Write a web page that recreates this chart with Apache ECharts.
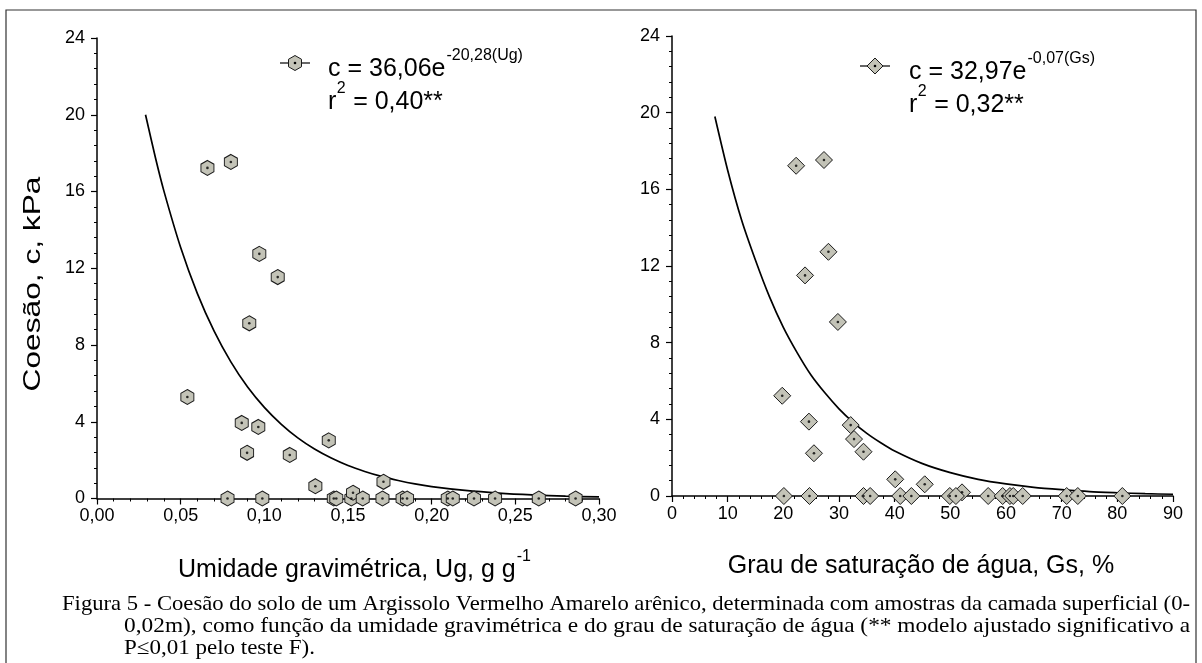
<!DOCTYPE html>
<html><head><meta charset="utf-8">
<script src="https://cdn.jsdelivr.net/npm/echarts@6/dist/echarts.min.js"></script>
<style>html,body{margin:0;padding:0;background:#fff}#c{width:1202px;height:663px}</style>
</head><body><div id="c"></div>
<script>
// ---- Data ----
// Left panel: cohesion vs gravimetric moisture
const ugX = [0.054,0.066,0.080,0.097,0.108,0.091,0.0865,0.0964,0.1385,0.0897,0.1152,0.1305,0.1712,
             0.078,0.0988,0.1415,0.143,0.152,0.153,0.1588,0.1706,0.1826,0.1853,0.2096,0.2126,0.2253,0.2379,0.264,0.286];
const ugC = [5.29,17.23,17.54,12.75,11.54,9.13,3.94,3.73,3.03,2.38,2.27,0.64,0.87,
             0,0,0,0,0,0.3,0,0,0,0,0,0,0,0,0,0];
// fitted curve as drawn
const ugFitX = [0.029,0.035,0.04,0.05,0.06,0.07,0.08,0.09,0.10,0.11,0.12,0.13,0.14,0.15,0.16,0.17,0.18,0.19,0.20,0.22,0.24,0.26,0.28,0.30];
const ugFitC = [20.0,17.73,16.02,13.08,10.68,8.72,7.12,5.81,4.75,3.88,3.16,2.58,2.11,1.72,1.41,1.15,0.94,0.76,0.62,0.42,0.28,0.185,0.12,0.08];

// Right panel: cohesion vs degree of water saturation
const gsX = [22.3,27.3,28.1,23.9,29.8,19.8,24.6,32.1,32.7,25.5,34.4,40.1,45.4,52.1,
             20.1,24.7,34.4,35.6,41.0,43.0,49.9,51.0,56.8,59.4,60.7,61.3,63.0,70.9,72.9,80.9];
const gsC = [17.23,17.53,12.74,11.51,9.08,5.23,3.88,3.70,2.97,2.23,2.31,0.87,0.61,0.19,
             0,0,0,0,0,0,0,0,0,0,0,0,0,0,0,0];
const gsFitX = [7.7,10,12.5,15,17.5,20,22.5,25,27.5,30,32.5,35,37.5,40,45,50,55,60,65,70,75,80,85,90];
const gsFitC = [19.8,17.0,14.4,12.3,10.4,8.8,7.47,6.3,5.37,4.55,3.86,3.27,2.78,2.35,1.69,1.22,0.87,0.63,0.45,0.33,0.23,0.17,0.12,0.09];

// Axis ranges / ticks
const yTicks = {min:0, max:24, interval:4};
const ugTicks = {min:0, max:0.30, interval:0.05};
const gsTicks = {min:0, max:90, interval:10};

// Texts
const yName = 'Coesão, c, kPa';
const ugName = 'Umidade gravimétrica, Ug, g g';
const ugNameSup = '-1';
const gsName = 'Grau de saturação de água, Gs, %';
const ugEq = ['c = 36,06e', '-20,28(Ug)', 'r', '2', ' = 0,40**'];
const gsEq = ['c = 32,97e', '-0,07(Gs)', 'r', '2', ' = 0,32**'];
const caption = [
  'Figura 5 - Coesão do solo de um Argissolo Vermelho Amarelo arênico, determinada com amostras da camada superficial (0-',
  '0,02m), como função da umidade gravimétrica e do grau de saturação de água (** modelo ajustado significativo a',
  'P≤0,01 pelo teste F).'
];

// ---- Rendering ----
const SANS = '"Liberation Sans", Arial, sans-serif';
const SERIF = '"Liberation Serif", "Times New Roman", serif';
const FILL = '#c3c3b7';
const HEX = 'path://M0,-1L0.866,-0.5L0.866,0.5L0,1L-0.866,0.5L-0.866,-0.5Z';

const cv = document.createElement('canvas').getContext('2d');
function tw(t, size, fam){ cv.font = size + 'px ' + fam; return cv.measureText(t).width; }

function pairs(xs, ys){ return xs.map((x,i)=>[x, ys[i]]); }

function xAxis(idx, t, fmt){
  return {
    gridIndex: idx, type:'value', min:t.min, max:t.max, interval:t.interval,
    axisLine:{show:true, onZero:false, lineStyle:{color:'#000', width:1.5}},
    axisTick:{show:true, length:6, lineStyle:{color:'#000', width:1.2}},
    minorTick:{show:true, splitNumber:5, length:3, lineStyle:{color:'#000', width:1}},
    splitLine:{show:false},
    axisLabel:{color:'#000', fontFamily:SANS, fontSize:18, margin:9, formatter:fmt}
  };
}
function yAxis(idx){
  return {
    gridIndex: idx, type:'value', min:yTicks.min, max:yTicks.max, interval:yTicks.interval,
    axisLine:{show:true, onZero:false, lineStyle:{color:'#000', width:1.5}},
    axisTick:{show:true, length:6, lineStyle:{color:'#000', width:1.2}},
    minorTick:{show:true, splitNumber:5, length:3, lineStyle:{color:'#000', width:1}},
    splitLine:{show:false},
    axisLabel:{color:'#000', fontFamily:SANS, fontSize:18, margin:12}
  };
}
function scatterSeries(i, data, symbol, size){
  return [
    {type:'scatter', xAxisIndex:i, yAxisIndex:i, data:data, symbol:symbol, symbolSize:size,
     itemStyle:{color:FILL, borderColor:'#1a1a1a', borderWidth:1, opacity:1}, z:3, silent:true},
    {type:'scatter', xAxisIndex:i, yAxisIndex:i, data:data, symbol:'circle', symbolSize:2.6,
     itemStyle:{color:'#000'}, z:4, silent:true}
  ];
}
function fitSeries(i, data){
  return {type:'line', xAxisIndex:i, yAxisIndex:i, data:data, smooth:0.25,
          showSymbol:false, lineStyle:{color:'#000', width:1.7}, z:2, silent:true};
}

function legendGraphic(cx, cy, kind, tx, eq){
  const g = [];
  g.push({type:'line', shape:{x1:cx-11, y1:cy, x2:cx+19, y2:cy}, style:{stroke:'#000', lineWidth:1.2}, z:10});
  const mx = cx+4;
  if(kind==='hex'){
    const pts=[[0,-7.5],[6.5,-3.75],[6.5,3.75],[0,7.5],[-6.5,3.75],[-6.5,-3.75]].map(p=>[mx+p[0], cy+p[1]]);
    g.push({type:'polygon', shape:{points:pts}, style:{fill:FILL, stroke:'#1a1a1a', lineWidth:1}, z:11});
  } else {
    const pts=[[0,-8],[8,0],[0,8],[-8,0]].map(p=>[mx+p[0], cy+p[1]]);
    g.push({type:'polygon', shape:{points:pts}, style:{fill:FILL, stroke:'#1a1a1a', lineWidth:1}, z:11});
  }
  g.push({type:'circle', shape:{cx:mx, cy:cy, r:1.3}, style:{fill:'#000'}, z:12});
  const fs=25, fsup=16;
  const y1 = cy+6, y2 = cy+39;
  g.push({type:'text', x:tx, y:y1, style:{text:eq[0], font:fs+'px '+SANS, fill:'#000', verticalAlign:'middle'}, z:10});
  const w0 = tw(eq[0], fs, SANS);
  g.push({type:'text', x:tx+w0+1, y:y1-13, style:{text:eq[1], font:fsup+'px '+SANS, fill:'#000', verticalAlign:'middle'}, z:10});
  g.push({type:'text', x:tx, y:y2, style:{text:eq[2], font:fs+'px '+SANS, fill:'#000', verticalAlign:'middle'}, z:10});
  const wr = tw(eq[2], fs, SANS);
  g.push({type:'text', x:tx+wr+0.5, y:y2-13, style:{text:eq[3], font:fsup+'px '+SANS, fill:'#000', verticalAlign:'middle'}, z:10});
  const w2 = tw(eq[3], fsup, SANS);
  g.push({type:'text', x:tx+wr+w2+1, y:y2, style:{text:eq[4], font:fs+'px '+SANS, fill:'#000', verticalAlign:'middle'}, z:10});
  return g;
}

const graphics = [];
// outer border
graphics.push({type:'rect', shape:{x:6, y:10, width:1190, height:680}, style:{fill:'none', stroke:'#333', lineWidth:1.2}, z:0});
// legends / equations
graphics.push(...legendGraphic(291, 63, 'hex', 328, ugEq));
graphics.push(...legendGraphic(871, 66, 'dia', 909, gsEq));
// y axis name (stretched along its length as in the reference)
graphics.push({type:'text', x:33, y:284, rotation:Math.PI/2, scaleX:1.32,
  style:{text:yName, font:'24px '+SANS, fill:'#000', align:'center', verticalAlign:'middle'}});
// x axis names
(function(){
  const fs=25, fsup=16;
  const w = tw(ugName, fs, SANS), ws = tw(ugNameSup, fsup, SANS);
  const x0 = 354 - (w+ws)/2;
  graphics.push({type:'text', x:x0, y:570, style:{text:ugName, font:fs+'px '+SANS, fill:'#000', verticalAlign:'middle'}});
  graphics.push({type:'text', x:x0+w+1, y:557, style:{text:ugNameSup, font:fsup+'px '+SANS, fill:'#000', verticalAlign:'middle'}});
  graphics.push({type:'text', x:921, y:566, style:{text:gsName, font:fs+'px '+SANS, fill:'#000', align:'center', verticalAlign:'middle'}});
})();
// caption (lines 1-2 justified to the right margin, line 3 at the same horizontal scale)
(function(){
  const fs=21;
  const lines=[[62,604,1190],[124,626,1190],[124,648,null]];
  const s1 = (lines[0][2]-lines[0][0]) / tw(caption[0], fs, SERIF);
  const s2 = (lines[1][2]-lines[1][0]) / tw(caption[1], fs, SERIF);
  const scales = [s1, s2, (s1+s2)/2];
  lines.forEach((L,i)=>{
    graphics.push({type:'text', x:L[0], y:L[1], scaleX:scales[i],
      style:{text:caption[i], font:fs+'px '+SERIF, fill:'#000', verticalAlign:'middle'}});
  });
})();

const chart = echarts.init(document.getElementById('c'), null, {renderer:'canvas'});
chart.setOption({
  animation:false,
  backgroundColor:'#fff',
  grid:[
    {left:97, top:38, width:502, height:460.5},
    {left:672, top:36, width:501, height:460}
  ],
  xAxis:[
    xAxis(0, ugTicks, v=>v.toFixed(2).replace('.', ',')),
    xAxis(1, gsTicks, v=>String(v))
  ],
  yAxis:[yAxis(0), yAxis(1)],
  series:[
    fitSeries(0, pairs(ugFitX, ugFitC)),
    ...scatterSeries(0, pairs(ugX, ugC), HEX, [13,15]),
    fitSeries(1, pairs(gsFitX, gsFitC)),
    ...scatterSeries(1, pairs(gsX, gsC), 'diamond', [17,17])
  ],
  graphic:graphics
});
</script>
</body></html>
